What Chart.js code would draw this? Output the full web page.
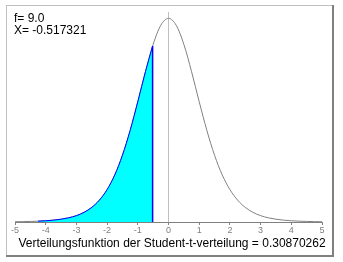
<!DOCTYPE html>
<html lang="de">
<head>
  <meta charset="UTF-8" />
  <title>Student-t-Verteilung</title>
  <script src="https://cdn.jsdelivr.net/npm/chart.js"></script>
  <style>
    body { margin: 0; padding: 0; background: #fff; }
    canvas { display: block; }
  </style>
</head>
<body>
  <canvas id="tChart" width="343" height="262"></canvas>

  <script>
    // values (density of t with f = 9)
    const tValues = [-5, -4.75, -4.5, -4.25, -4, -3.75, -3.5, -3.25, -3, -2.75, -2.5, -2.25, -2, -1.75, -1.5, -1.25, -1, -0.75, -0.5, -0.25,
                     0, 0.25, 0.5, 0.75, 1, 1.25, 1.5, 1.75, 2, 2.25, 2.5, 2.75, 3, 3.25, 3.5, 3.75, 4, 4.25, 4.5, 4.75, 5];
    const density = [0.0005, 0.0007, 0.0011, 0.0016, 0.0023, 0.0035, 0.0053, 0.0080, 0.0121, 0.0184, 0.0278, 0.0417, 0.0617, 0.0897, 0.1272, 0.1743, 0.2291, 0.2866, 0.3384, 0.3748,
                     0.3880, 0.3748, 0.3384, 0.2866, 0.2291, 0.1743, 0.1272, 0.0897, 0.0617, 0.0417, 0.0278, 0.0184, 0.0121, 0.0080, 0.0053, 0.0035, 0.0023, 0.0016, 0.0011, 0.0007, 0.0005];
    const fillStart = -4.25;
    const xCut = -0.517321;
    const densityAtCut = 0.3352;
    const degrees = '9.0';
    const cdfValue = '0.30870262';
    const xTicks = [-5, -4, -3, -2, -1, 0, 1, 2, 3, 4, 5];

    const curve = tValues.map((t, i) => ({ x: t, y: density[i] }));
    const area = curve.filter(p => p.x >= fillStart && p.x < xCut);
    area.push({ x: xCut, y: densityAtCut });

    const FONT = '12px "Liberation Sans", Arial, sans-serif';

    const decor = {
      id: 'decor',
      afterDraw(chart) {
        const c = chart.ctx;
        c.save();
        // frame
        c.fillStyle = '#c0c0c0';
        c.fillRect(6, 5, 327, 1);
        c.fillRect(6, 5, 1, 251);
        c.fillStyle = '#808080';
        c.fillRect(332, 5, 2, 252);
        c.fillRect(6, 255, 328, 2);
        // texts
        c.fillStyle = '#000';
        c.font = FONT;
        c.textBaseline = 'alphabetic';
        c.textAlign = 'left';
        c.fillText('f= ' + degrees, 14, 22);
        c.fillText('X= ' + xCut, 14, 34);
        c.textAlign = 'center';
        c.fillText('Verteilungsfunktion der Student-t-verteilung = ' + cdfValue, 172, 247);
        c.restore();
      }
    };

    new Chart(document.getElementById('tChart').getContext('2d'), {
      type: 'scatter',
      data: {
        datasets: [
          {
            data: [{ x: 0, y: 0 }, { x: 0, y: 0.4 }],
            showLine: true, borderColor: '#c0c0c0', borderWidth: 1,
            pointRadius: 0, order: 4
          },
          {
            data: curve,
            showLine: true, borderColor: '#808080', borderWidth: 1,
            cubicInterpolationMode: 'monotone',
            pointRadius: 0, order: 3
          },
          {
            data: area,
            showLine: true, borderColor: '#0000ff', borderWidth: 1,
            backgroundColor: '#00ffff', fill: 'origin',
            cubicInterpolationMode: 'monotone',
            pointRadius: 0, order: 2
          },
          {
            data: [{ x: xCut, y: 0 }, { x: xCut, y: densityAtCut }],
            showLine: true, borderColor: '#0000ff', borderWidth: 1.5,
            pointRadius: 0, order: 1
          }
        ]
      },
      options: {
        responsive: false,
        animation: false,
        layout: { padding: { top: 12, left: 15, right: 21, bottom: 0 } },
        plugins: { legend: { display: false }, tooltip: { enabled: false } },
        scales: {
          x: {
            type: 'linear', min: -5, max: 5,
            border: { color: '#808080', width: 1 },
            grid: { drawOnChartArea: false, drawTicks: true, tickLength: 3, color: '#808080' },
            afterBuildTicks(scale) { scale.ticks = xTicks.map(v => ({ value: v })); },
            ticks: {
              color: '#808080', padding: 0, maxRotation: 0, autoSkip: false,
              font: { size: 9, family: '"Liberation Sans", Arial, sans-serif' }
            },
            afterFit(scale) { scale.height = 40; }
          },
          y: { display: false, min: 0, max: 0.4 }
        }
      },
      plugins: [decor]
    });
  </script>
</body>
</html>
